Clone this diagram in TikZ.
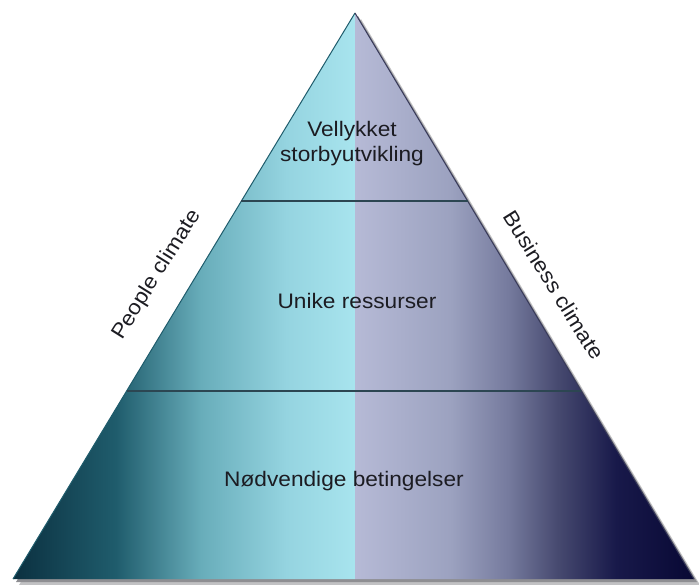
\documentclass[tikz,border=0pt]{standalone}
\usepackage{fontspec}
\setmainfont[FakeStretch=1.08]{Liberation Sans}
\usetikzlibrary{calc}
\definecolor{lA}{HTML}{0B3040}
\definecolor{lB}{HTML}{1F5C6C}
\definecolor{lC}{HTML}{68ADBA}
\definecolor{lD}{HTML}{95D4E0}
\definecolor{lE}{HTML}{A8E4EE}
\definecolor{rA}{HTML}{B6BAD6}
\definecolor{rB}{HTML}{9CA2C0}
\definecolor{rC}{HTML}{767B9E}
\definecolor{rD}{HTML}{46496F}
\definecolor{rE}{HTML}{18194A}
\definecolor{rF}{HTML}{080834}
\definecolor{txt}{HTML}{1C1C22}
\definecolor{divc}{HTML}{2C4652}
\definecolor{shad}{HTML}{8E8E92}
\pgfdeclarehorizontalshading{leftshade}{100bp}{color(0bp)=(lA); color(25bp)=(lA); color(40bp)=(lB); color(52.5bp)=(lC); color(65bp)=(lD); color(75bp)=(lE); color(100bp)=(lE)}
\pgfdeclarehorizontalshading{rightshade}{100bp}{color(0bp)=(rA); color(25bp)=(rA); color(39bp)=(rB); color(47.5bp)=(rC); color(55bp)=(rD); color(63.5bp)=(rE); color(75bp)=(rF); color(100bp)=(rF)}
\tikzset{
  lbl/.style={text=txt, font=\fontsize{21}{25}\selectfont, align=center, inner sep=0pt},
  divider/.style={draw=divc, line width=1.2pt},
}
\begin{document}
\begin{tikzpicture}[x=1pt,y=-1pt]
\useasboundingbox (0,0) rectangle (699,584);
\coordinate (A) at (355,13);
\coordinate (BL) at (13,579);
\coordinate (BR) at (694,579);
\coordinate (BM) at (355,579);
% shadow
\fill[shad!55] ($(A)+(6,6)$) -- ($(BR)+(6,6)$) -- ($(BL)+(6,6)$) -- cycle;
\fill[shad] ($(A)+(3,3)$) -- ($(BR)+(3,3)$) -- ($(BL)+(3,3)$) -- cycle;
% halves
\shade[shading=leftshade] (BL) -- (A) -- (BM) -- cycle;
\shade[shading=rightshade] (A) -- (BR) -- (BM) -- cycle;
% outline
\draw[draw=lB, line width=1pt] (BL) -- (A);
\draw[draw=rD!80!black, line width=1pt] (A) -- (BR);
% dividers
\coordinate (L1) at ($(A)!0.3322!(BL)$);
\coordinate (R1) at ($(A)!0.3322!(BR)$);
\coordinate (L2) at ($(A)!0.6678!(BL)$);
\coordinate (R2) at ($(A)!0.6678!(BR)$);
\draw[divider] (L1) -- (R1);
\draw[divider] (L2) -- (R2);
% labels
\node[lbl] (top) at (352,144) {Vellykket\\storbyutvikling};
\node[lbl, anchor=base] (mid) at (357,308) {Unike ressurser};
\node[lbl, anchor=base] (bot) at (344,486) {Nødvendige betingelser};
\node[lbl, rotate=58] (people) at (157,275) {People climate};
\node[lbl, rotate=-58] (business) at (554,285) {Business climate};
\end{tikzpicture}
\end{document}
